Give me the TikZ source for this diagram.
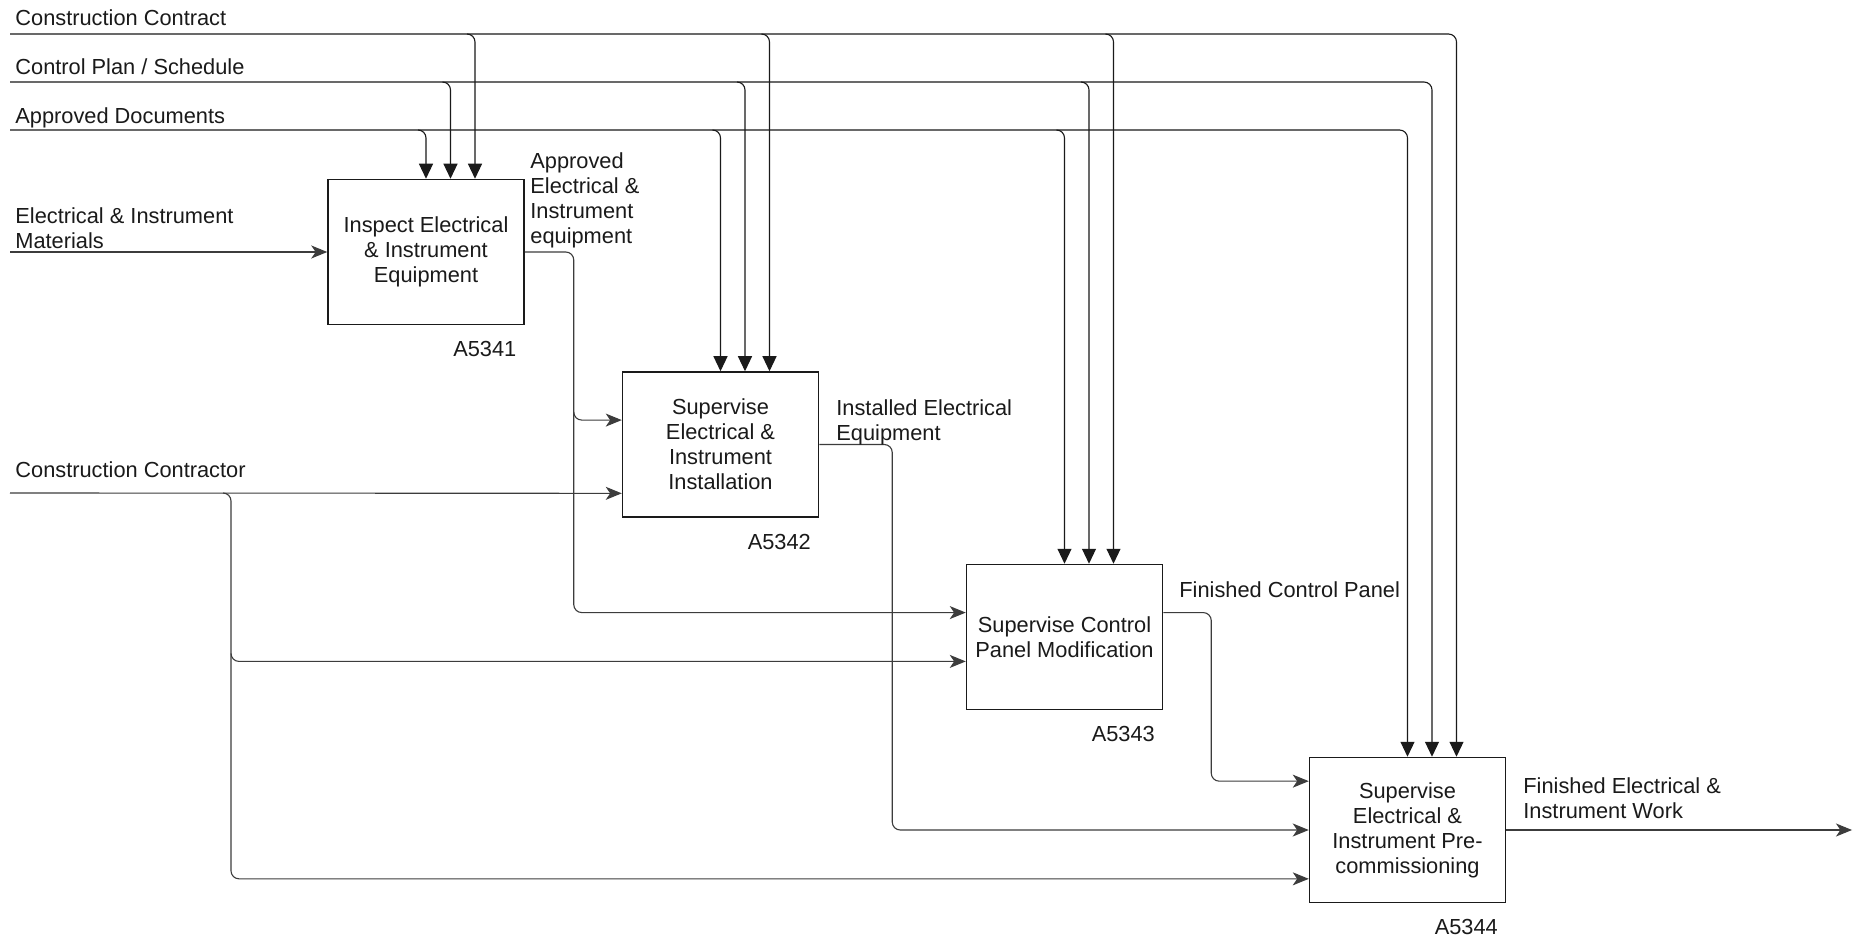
\documentclass[tikz,border=0pt]{standalone}
\usepackage{fontspec}
\setmainfont{Liberation Sans}
\usetikzlibrary{arrows.meta,calc,positioning}
\definecolor{idInk}{HTML}{1A1A1A}
\definecolor{idLine}{HTML}{3C3C3C}
\newcommand{\idfont}{\fontsize{10.9}{12.5}\selectfont}
\tikzset{
  id canvas/.style={fill=white},
  id box/.style={
    draw=idInk,
    line width=.75pt,
    minimum width=98pt,
    minimum height=72.5pt,
    inner sep=0pt,
    align=center,
    text=idInk,
    font=\idfont
  },
  id flow/.style={
    draw=idLine,
    line width=.55pt,
    rounded corners=4pt,
    -{Stealth[length=8pt,width=6.5pt,inset=2.2pt]}
  },
  id control/.style={
    draw=idInk,
    line width=.55pt,
    rounded corners=4pt,
    -{Triangle[length=7.5pt,width=7pt]}
  },
  id label/.style={font=\idfont, text=idInk, inner sep=0pt, align=left},
  id number/.style={font=\idfont, text=idInk, inner sep=0pt, anchor=east}
}

\begin{document}
\begin{tikzpicture}[x=.5pt,y=-.5pt]
  \path[id canvas] (0,0) rectangle (1853,941);
  \useasboundingbox (0,0) rectangle (1853,941);

  % activity boxes
  \node[id box] (b1) at (426,252) {Inspect Electrical\\\& Instrument\\Equipment};
  \node[id box] (b2) at (720.5,444.5) {Supervise\\Electrical \&\\Instrument\\Installation};
  \node[id box] (b3) at (1064.5,637) {Supervise Control\\Panel Modification};
  \node[id box] (b4) at (1407.5,830) {Supervise\\Electrical \&\\Instrument Pre-\\commissioning};

  \node[id number] (n1) at ($(b1.south east)+(-8,24)$) {A5341};
  \node[id number] (n2) at ($(b2.south east)+(-8,24)$) {A5342};
  \node[id number] (n3) at ($(b3.south east)+(-8,24)$) {A5343};
  \node[id number] (n4) at ($(b4.south east)+(-8,24)$) {A5344};

  % ports on the boxes
  \foreach \b in {1,2,3,4}{
    \coordinate (b\b-c1) at (b\b.north);
    \coordinate (b\b-c2) at ($(b\b.north)+(24.5,0)$);
    \coordinate (b\b-c3) at ($(b\b.north)+(49,0)$);
  }
  \coordinate (b2-i1) at ($(b2.north west)!2/6!(b2.south west)$);
  \coordinate (b2-i2) at ($(b2.north west)!5/6!(b2.south west)$);
  \coordinate (b3-i1) at ($(b3.north west)!2/6!(b3.south west)$);
  \coordinate (b3-i2) at ($(b3.north west)!4/6!(b3.south west)$);
  \coordinate (b3-o) at ($(b3.north east)!2/6!(b3.south east)$);
  \coordinate (b4-i1) at ($(b4.north west)!1/6!(b4.south west)$);
  \coordinate (b4-i2) at ($(b4.north west)!3/6!(b4.south west)$);
  \coordinate (b4-i3) at ($(b4.north west)!5/6!(b4.south west)$);

  % outer ends
  \coordinate (cc) at (10,34);
  \coordinate (cp) at (10,82);
  \coordinate (ad) at (10,130);
  \coordinate (em) at (10,252);
  \coordinate (cr) at (10,493);
  \coordinate (out) at (1852,830);

  % bends
  \coordinate (s1) at ($(b1.east)+(49,0)$);
  \coordinate (s2) at ($(cr)+(221,0)$);
  \coordinate (s3) at ($(b2.east)+(73,0)$);
  \coordinate (s4) at ($(b3-o)+(48,0)$);

  % controls
  \draw[id control] (ad) -| (b4-c1);
  \draw[id control] (cp) -| (b4-c2);
  \draw[id control] (cc) -| (b4-c3);
  \foreach \b in {1,2,3}{
    \draw[id control] ($(b\b-c1 |- ad)+(-8,0)$) -| (b\b-c1);
    \draw[id control] ($(b\b-c2 |- cp)+(-8,0)$) -| (b\b-c2);
    \draw[id control] ($(b\b-c3 |- cc)+(-8,0)$) -| (b\b-c3);
  }

  % inputs and outputs
  \draw[id flow] (em) -- (b1.west);
  \draw[id flow] (b1.east) -- (s1) |- (b3-i1);
  \draw[id flow] ($(s1 |- b2-i1)+(0,-8)$) |- (b2-i1);
  \draw[id flow] (cr) -- (b2-i2);
  \draw[id flow] ($(s2)+(-8,0)$) -- (s2) |- (b4-i3);
  \draw[id flow] ($(s2 |- b3-i2)+(0,-8)$) |- (b3-i2);
  \draw[id flow] (b2.east) -- (s3) |- (b4-i2);
  \draw[id flow] (b3-o) -- (s4) |- (b4-i1);
  \draw[id flow] (b4.east) -- (out);

  % arrow labels
  \node[id label, anchor=base west] (l-cc) at (15,26) {Construction Contract};
  \node[id label, anchor=base west] (l-cp) at (15,75) {Control Plan / Schedule};
  \node[id label, anchor=base west] (l-ad) at (15,124) {Approved Documents};
  \node[id label, anchor=north west] (l-em) at (15,207) {Electrical \& Instrument\\Materials};
  \node[id label, anchor=base west] (l-cr) at (15,477) {Construction Contractor};
  \node[id label, anchor=north west] (l-o1) at (530,152) {Approved\\Electrical \&\\Instrument\\equipment};
  \node[id label, anchor=north west] (l-o2) at (836,399) {Installed Electrical\\Equipment};
  \node[id label, anchor=base west] (l-o3) at (1179,597) {Finished Control Panel};
  \node[id label, anchor=north west] (l-o4) at (1523,777) {Finished Electrical \&\\Instrument Work};
\end{tikzpicture}
\end{document}
